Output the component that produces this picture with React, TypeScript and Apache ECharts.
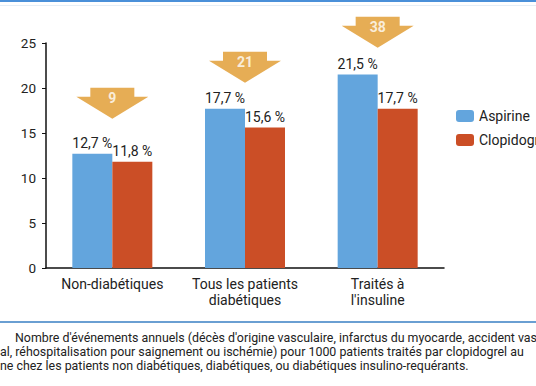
import React, { useEffect, useRef } from "react";
import * as echarts from "echarts";

const categories = ["Non-diabétiques", "Tous les patients\ndiabétiques", "Traités à\nl'insuline"];
const aspirine = [12.7, 17.7, 21.5];
const clopidogrel = [11.8, 15.6, 17.7];
const arrowNumbers = [9, 21, 38];
const arrowLevels = [18.3, 22.3, 26.2];
const yTicks = [0, 5, 10, 15, 20, 25];
const captionLines = [
  "Nombre d'événements annuels (décès d'origine vasculaire, infarctus du myocarde, accident vas",
  "al, réhospitalisation pour saignement ou ischémie) pour 1000 patients traités par clopidogrel au",
  "ne chez les patients non diabétiques, diabétiques, ou diabétiques insulino-requérants.",
];

const FONT = "Roboto, 'DejaVu Sans', sans-serif";
const fmt = (v: number) => v.toFixed(1).replace(".", ",") + " %";

export default function App() {
  const ref = useRef<HTMLDivElement>(null);
  useEffect(() => {
    if (!ref.current) return;
    const chart = echarts.init(ref.current, undefined, { renderer: "svg" });
    const arrowPath = "path://M14,0 L58,0 L58,9 L72,9 L36,31 L0,9 L14,9 Z";
    const valueLabel = {
      show: true,
      position: "top",
      distance: 4,
      color: "#222",
      fontSize: 14,
      fontFamily: FONT,
      formatter: (p: any) => fmt(p.value),
    };
    chart.setOption({
      animation: false,
      backgroundColor: "#ffffff",
      textStyle: { fontFamily: FONT },
      grid: { left: 46, right: 92, top: 43, bottom: 118, containLabel: false },
      legend: {
        orient: "vertical",
        left: 451,
        top: 104,
        itemWidth: 18,
        itemHeight: 12,
        itemGap: 10,
        data: ["Aspirine", "Clopidogrel"],
        textStyle: { fontSize: 14, color: "#222", fontFamily: FONT },
      },
      xAxis: {
        type: "category",
        data: categories,
        axisLine: { show: true, lineStyle: { color: "#111", width: 1.5 } },
        axisTick: { show: false },
        axisLabel: { interval: 0, hideOverlap: false, color: "#222", fontSize: 14, margin: 8, lineHeight: 16, fontFamily: FONT },
      },
      yAxis: {
        type: "value",
        min: yTicks[0],
        max: yTicks[yTicks.length - 1],
        interval: 5,
        axisLine: { show: true, lineStyle: { color: "#111", width: 1.5 } },
        axisTick: { show: true, length: 4, lineStyle: { color: "#111" } },
        splitLine: { show: false },
        axisLabel: { color: "#222", fontSize: 13.5, margin: 10, fontFamily: FONT },
      },
      series: [
        {
          name: "Aspirine",
          type: "bar",
          data: aspirine,
          barWidth: 40,
          barGap: "0%",
          itemStyle: { color: "#63A5DD" },
          label: valueLabel,
        },
        {
          name: "Clopidogrel",
          type: "bar",
          data: clopidogrel,
          barWidth: 40,
          itemStyle: { color: "#CB4E26" },
          label: valueLabel,
        },
        {
          name: "arrows",
          type: "scatter",
          clip: false,
          symbol: arrowPath,
          symbolSize: [72, 31],
          itemStyle: { color: "#E0982A" },
          data: arrowLevels.map((v, i) => [i, v]),
          label: {
            show: true,
            position: "inside",
            offset: [0, -5],
            color: "#ffffff",
            fontWeight: "bold",
            fontSize: 14,
            fontFamily: FONT,
            formatter: (p: any) => String(arrowNumbers[p.dataIndex]),
          },
          z: 5,
        },
      ],
      graphic: [
        { type: "rect", left: 0, top: 0, shape: { width: 536, height: 2 }, style: { fill: "#4A90D9" } },
        { type: "rect", left: 0, top: 5, shape: { width: 536, height: 1 }, style: { fill: "#E6EEF6" } },
        { type: "rect", left: 0, top: 321, shape: { width: 536, height: 2 }, style: { fill: "#6A9FD2" } },
        {
          type: "text",
          left: 15,
          top: 331,
          style: { text: captionLines[0], fill: "#222", font: `12.4px ${FONT}` },
        },
        {
          type: "text",
          left: 0,
          top: 345,
          style: { text: captionLines[1], fill: "#222", font: `12.4px ${FONT}` },
        },
        {
          type: "text",
          left: 0,
          top: 359,
          style: { text: captionLines[2], fill: "#222", font: `12.4px ${FONT}` },
        },
      ],
    });
    return () => chart.dispose();
  }, []);
  return <div ref={ref} style={{ position: "fixed", left: 0, top: 0, width: 536, height: 386 }} />;
}
